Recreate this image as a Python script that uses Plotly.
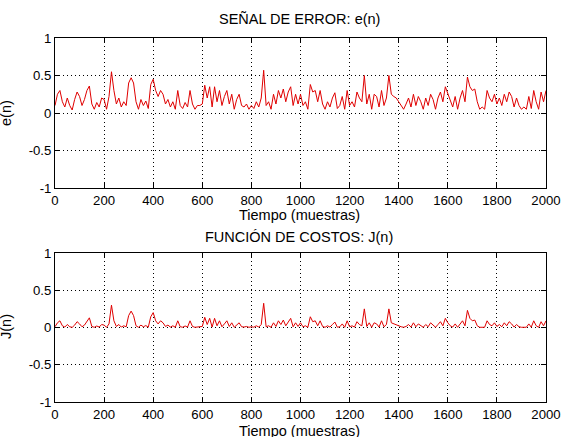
import plotly.graph_objects as go

# sample index (every 10 samples)
n = list(range(0, 2001, 10))

# error signal e(n)
e_vals = [
    0.10, 0.25, 0.30, 0.15, 0.08, 0.20, 0.10, 0.04, 0.18, 0.28,
    0.22, 0.10, 0.18, 0.30, 0.36, 0.12, 0.05, 0.14, 0.08, 0.20,
    0.18, 0.05, 0.22, 0.55, 0.30, 0.12, 0.20, 0.08, 0.15, 0.10,
    0.40, 0.47, 0.40, 0.15, 0.05, 0.18, 0.10, 0.16, 0.06, 0.38,
    0.45, 0.30, 0.22, 0.30, 0.25, 0.12, 0.18, 0.08, 0.15, 0.05,
    0.30, 0.10, 0.06, 0.14, 0.08, 0.30, 0.12, 0.05, 0.10, 0.10,
    0.12, 0.37, 0.20, 0.35, 0.08, 0.35, 0.15, 0.30, 0.10, 0.22,
    0.30, 0.12, 0.25, 0.05, 0.18, 0.25, 0.10, 0.08, 0.12, 0.05,
    0.10, 0.06, 0.15, 0.08, 0.20, 0.57, 0.10, 0.15, 0.05, 0.25,
    0.12, 0.30, 0.20, 0.32, 0.15, 0.28, 0.35, 0.10, 0.25, 0.12,
    0.25, 0.10, 0.15, 0.05, 0.38, 0.28, 0.30, 0.15, 0.30, 0.12,
    0.05, 0.15, 0.08, 0.20, 0.27, 0.06, 0.10, 0.22, 0.05, 0.30,
    0.10, 0.15, 0.08, 0.28, 0.20, 0.15, 0.50, 0.12, 0.25, 0.05,
    0.25, 0.22, 0.08, 0.30, 0.10, 0.20, 0.50, 0.25, 0.22, 0.20,
    0.15, 0.10, 0.05, 0.12, 0.20, 0.08, 0.25, 0.10, 0.22, 0.15,
    0.05, 0.20, 0.10, 0.25, 0.18, 0.05, 0.20, 0.28, 0.15, 0.35,
    0.25, 0.15, 0.08, 0.22, 0.05, 0.20, 0.30, 0.15, 0.48, 0.35,
    0.30, 0.32, 0.15, 0.05, 0.08, 0.05, 0.30, 0.20, 0.15, 0.25,
    0.12, 0.20, 0.10, 0.25, 0.15, 0.28, 0.22, 0.08, 0.20, 0.10,
    0.05, 0.08, 0.05, 0.22, 0.06, 0.30, 0.15, 0.05, 0.28, 0.15,
    0.30,
]

# cost function J(n)
j_vals = [
    0.010, 0.063, 0.090, 0.023, 0.006, 0.040, 0.010, 0.002, 0.032, 0.078,
    0.048, 0.010, 0.032, 0.090, 0.130, 0.014, 0.003, 0.020, 0.006, 0.040,
    0.032, 0.003, 0.048, 0.300, 0.090, 0.014, 0.040, 0.006, 0.023, 0.010,
    0.160, 0.220, 0.160, 0.023, 0.003, 0.032, 0.010, 0.026, 0.004, 0.144,
    0.200, 0.090, 0.048, 0.090, 0.063, 0.014, 0.032, 0.006, 0.023, 0.003,
    0.090, 0.010, 0.004, 0.020, 0.006, 0.090, 0.014, 0.003, 0.010, 0.010,
    0.014, 0.137, 0.040, 0.123, 0.006, 0.123, 0.023, 0.090, 0.010, 0.048,
    0.090, 0.014, 0.063, 0.003, 0.032, 0.063, 0.010, 0.006, 0.014, 0.003,
    0.010, 0.004, 0.023, 0.006, 0.040, 0.325, 0.010, 0.023, 0.003, 0.063,
    0.014, 0.090, 0.040, 0.100, 0.023, 0.078, 0.123, 0.010, 0.063, 0.014,
    0.063, 0.010, 0.023, 0.003, 0.144, 0.078, 0.090, 0.023, 0.090, 0.014,
    0.003, 0.023, 0.006, 0.040, 0.073, 0.004, 0.010, 0.048, 0.003, 0.090,
    0.010, 0.023, 0.006, 0.078, 0.040, 0.023, 0.250, 0.014, 0.063, 0.003,
    0.063, 0.048, 0.006, 0.090, 0.010, 0.040, 0.250, 0.063, 0.048, 0.040,
    0.023, 0.010, 0.003, 0.014, 0.040, 0.006, 0.063, 0.010, 0.048, 0.023,
    0.003, 0.040, 0.010, 0.063, 0.032, 0.003, 0.040, 0.078, 0.023, 0.123,
    0.063, 0.023, 0.006, 0.048, 0.003, 0.040, 0.090, 0.023, 0.230, 0.123,
    0.090, 0.100, 0.023, 0.003, 0.006, 0.003, 0.090, 0.040, 0.023, 0.063,
    0.014, 0.040, 0.010, 0.063, 0.023, 0.078, 0.048, 0.006, 0.040, 0.010,
    0.003, 0.006, 0.003, 0.048, 0.004, 0.090, 0.023, 0.003, 0.078, 0.023,
    0.090,
]

x_ticks = [0, 200, 400, 600, 800, 1000, 1200, 1400, 1600, 1800, 2000]
x_ticktext = [str(v) for v in x_ticks]
y_ticks = [-1, -0.5, 0, 0.5, 1]
y_ticktext = ["-1", "-0.5", "0", "0.5", "1"]

title_top = "SEÑAL DE ERROR: e(n)"
title_bottom = "FUNCIÓN DE COSTOS: J(n)"
xlabel = "Tiempo (muestras)"
ylabel_top = "e(n)"
ylabel_bottom = "J(n)"

W, H = 562, 437
FONT = "Liberation Sans, Arial, sans-serif"
line_color = "#e00000"
TICK_SIZE = 13.2
LABEL_SIZE = 14.5

def px(xp):
    return xp / W

def py(yp):
    return 1 - yp / H

fig = go.Figure()
fig.add_trace(go.Scatter(x=n, y=e_vals, mode="lines", xaxis="x", yaxis="y",
                         line=dict(color=line_color, width=1), showlegend=False))
fig.add_trace(go.Scatter(x=n, y=j_vals, mode="lines", xaxis="x2", yaxis="y2",
                         line=dict(color=line_color, width=1), showlegend=False))

xdom = [px(55), px(546)]
top_dom = [py(188), py(38)]
bot_dom = [py(402), py(253)]

common = dict(showline=True, linecolor="black", linewidth=1, mirror="ticks",
              ticks="inside", ticklen=5, tickcolor="black",
              showgrid=True, gridcolor="black", griddash="1px,3px", gridwidth=1,
              zeroline=False, automargin=False, ticklabeloverflow="allow",
              tickfont=dict(family=FONT, size=TICK_SIZE, color="black"))

def xax(anchor):
    return dict(domain=xdom, anchor=anchor, range=[0, 2000], tickvals=x_ticks,
                ticktext=x_ticktext, tickmode="array", **common)

def yax(dom, anchor):
    return dict(domain=dom, anchor=anchor, range=[-1, 1], tickvals=y_ticks,
                ticktext=y_ticktext, tickmode="array", **common)

ann = []
def add_text(text, xp, yp, size=LABEL_SIZE, angle=0):
    ann.append(dict(text=text, x=px(xp), y=py(yp), xref="paper", yref="paper",
                    showarrow=False, xanchor="center", yanchor="middle", textangle=angle,
                    font=dict(family=FONT, size=size, color="black")))

add_text(title_top, 299, 19)
add_text(xlabel, 300, 215)
add_text(title_bottom, 299, 237)
add_text(xlabel, 300, 431)
add_text(ylabel_top, 6, 113, angle=-90)
add_text(ylabel_bottom, 6, 327, angle=-90)

fig.update_layout(
    width=W, height=H,
    margin=dict(l=0, r=0, t=0, b=0, autoexpand=False),
    paper_bgcolor="white", plot_bgcolor="white",
    xaxis=xax("y"), yaxis=yax(top_dom, "x"),
    xaxis2=xax("y2"), yaxis2=yax(bot_dom, "x2"),
    annotations=ann,
)

fig.write_html(
    "out.html",
    config={"displayModeBar": False},
    post_script="document.body.style.margin='0';document.body.style.overflow='hidden';"
                "document.documentElement.style.overflow='hidden';",
)
